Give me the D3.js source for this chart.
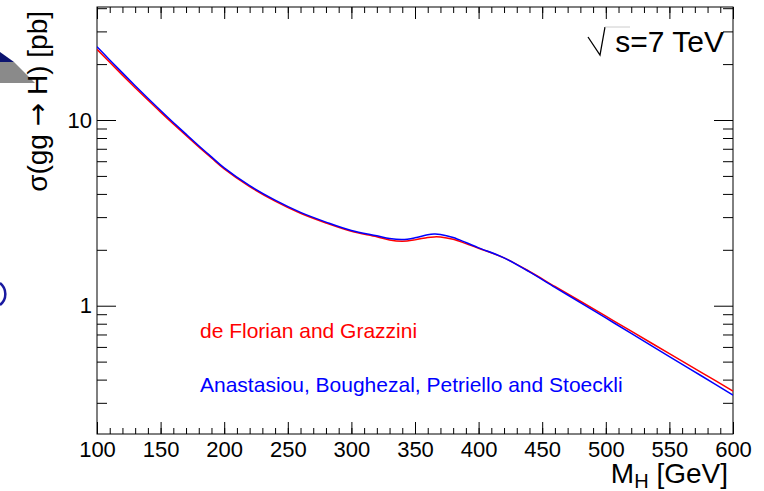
<!DOCTYPE html>
<html>
<head>
<meta charset="utf-8">
<script src="https://cdn.jsdelivr.net/npm/d3@7"></script>
<style>
  body { margin: 0; background: #fff; }
  svg { display: block; font-family: "Liberation Sans", Arial, Helvetica, sans-serif; }
</style>
</head>
<body>
<svg id="svg1" width="764" height="491"></svg>
<script>
// Higgs masses (GeV)
var masses = [100,110,120,130,140,150,160,170,180,190,200,220,240,260,280,300,320,330,340,350,360,365,370,380,390,400,420,440,460,480,500,520,550,575,600];
// de Florian and Grazzini (pb)
var sigmaDFG = [24.02,20.45,17.45,14.93,12.82,11.03,9.53,8.26,7.17,6.24,5.45,4.38,3.66,3.145,2.79,2.515,2.353,2.258,2.223,2.262,2.333,2.347,2.343,2.277,2.16,2.04,1.81,1.528,1.27,1.057,0.878,0.729,0.552,0.438,0.347];
// Anastasiou, Boughezal, Petriello and Stoeckli (pb)
var sigmaABPS = [24.8,21.07,17.94,15.31,13.11,11.26,9.70,8.39,7.27,6.33,5.52,4.43,3.70,3.18,2.82,2.54,2.38,2.30,2.27,2.32,2.41,2.43,2.42,2.33,2.19,2.05,1.81,1.52,1.256,1.040,0.859,0.710,0.5325,0.4197,0.330];

var xMajor = [100,150,200,250,300,350,400,450,500,550,600];
var xMinor = d3.range(100, 601, 10);
var yMajor = [1, 10];
var yMinor = [0.3,0.4,0.5,0.6,0.7,0.8,0.9,2,3,4,5,6,7,8,9,20,30,40];

var svg = d3.select("#svg1");
var margin = {top: 7, right: 31, bottom: 57, left: 97},
    width = 764 - margin.left - margin.right,
    height = 491 - margin.top - margin.bottom;

var xScale = d3.scaleLinear().domain([100, 600]).range([margin.left, margin.left + width]);
var yScale = d3.scaleLog().domain([0.2038, 40.6]).range([margin.top + height, margin.top]);

// petits restes de logo sur le bord gauche
svg.append("path").attr("d", "M0,52 L14,62 L0,62 Z").attr("fill", "#0c1470");
svg.append("path").attr("d", "M0,62 L14,62 L35,83 L0,83 Z").attr("fill", "#8a8a8a");
svg.append("path").attr("d", "M0,283 A14,14 0 0 1 0,305").attr("fill", "none")
    .attr("stroke", "#1a1aa0").attr("stroke-width", 2.5);

svg.append("defs").append("clipPath").attr("id", "clip")
    .append("rect").attr("x", margin.left).attr("y", margin.top).attr("width", width).attr("height", height);

// axes
function styleAxis(g) {
    g.select(".domain").remove();
    g.selectAll("line").attr("stroke", "#000");
    g.selectAll("text").attr("font-size", 22).attr("fill", "#000")
        .style("font-family", "'Liberation Sans', Arial, sans-serif");
}

svg.append("g").attr("transform", `translate(0, ${margin.top + height})`)
    .call(d3.axisBottom(xScale).tickValues(xMinor).tickSize(-6).tickFormat(""))
    .call(styleAxis);
svg.append("g").attr("transform", `translate(0, ${margin.top + height})`)
    .call(d3.axisBottom(xScale).tickValues(xMajor).tickSize(-12).tickPadding(7).tickFormat(d3.format("d")))
    .call(styleAxis);
svg.append("g").attr("transform", `translate(0, ${margin.top})`)
    .call(d3.axisTop(xScale).tickValues(xMinor).tickSize(-6).tickFormat(""))
    .call(styleAxis);
svg.append("g").attr("transform", `translate(0, ${margin.top})`)
    .call(d3.axisTop(xScale).tickValues(xMajor).tickSize(-12).tickFormat(""))
    .call(styleAxis);

svg.append("g").attr("transform", `translate(${margin.left}, 0)`)
    .call(d3.axisLeft(yScale).tickValues(yMinor).tickSize(-10).tickFormat(""))
    .call(styleAxis);
svg.append("g").attr("transform", `translate(${margin.left}, 0)`)
    .call(d3.axisLeft(yScale).tickValues(yMajor).tickSize(-19).tickPadding(5).tickFormat(d3.format("d")))
    .call(styleAxis);
svg.append("g").attr("transform", `translate(${margin.left + width}, 0)`)
    .call(d3.axisRight(yScale).tickValues(yMinor).tickSize(-10).tickFormat(""))
    .call(styleAxis);
svg.append("g").attr("transform", `translate(${margin.left + width}, 0)`)
    .call(d3.axisRight(yScale).tickValues(yMajor).tickSize(-19).tickFormat(""))
    .call(styleAxis);

// cadre
svg.append("rect")
    .attr("x", margin.left).attr("y", margin.top)
    .attr("width", width).attr("height", height)
    .attr("fill", "none").attr("stroke", "#000").attr("stroke-width", 1);

// courbes
var line = d3.line()
    .x(d => xScale(d[0]))
    .y(d => yScale(d[1]))
    .curve(d3.curveCatmullRom.alpha(0.5));

var series = [
    {vals: sigmaDFG, color: "#ff0000"},
    {vals: sigmaABPS, color: "#0000ff"}
];
svg.append("g").attr("clip-path", "url(#clip)")
    .selectAll("path")
    .data(series)
    .enter()
    .append("path")
    .attr("d", s => line(masses.map((m, i) => [m, s.vals[i]])))
    .attr("fill", "none")
    .attr("stroke", s => s.color)
    .attr("stroke-width", 1.5);

// légendes
svg.append("text").attr("x", 200).attr("y", 338)
    .attr("font-size", 21).attr("fill", "#ff0000")
    .text("de Florian and Grazzini");
svg.append("text").attr("x", 200).attr("y", 392)
    .attr("font-size", 21).attr("fill", "#0000ff")
    .text("Anastasiou, Boughezal, Petriello and Stoeckli");

// sqrt(s) = 7 TeV
svg.append("path").attr("d", "M588,37 L600,55 L605,27")
    .attr("fill", "none").attr("stroke", "#000").attr("stroke-width", 1.3);
svg.append("path").attr("d", "M605,27 L630,27")
    .attr("fill", "none").attr("stroke", "#ccc").attr("stroke-width", 1);
svg.append("text").attr("x", 724).attr("y", 52)
    .attr("font-size", 30).attr("text-anchor", "end")
    .text("s=7 TeV");

// titres des axes
var xt = svg.append("text").attr("x", 728).attr("y", 483)
    .attr("font-size", 28).attr("text-anchor", "end");
xt.append("tspan").text("M");
xt.append("tspan").attr("font-size", 20).attr("dy", 5).text("H");
xt.append("tspan").attr("dy", -5).text(" [GeV]");

var yt = svg.append("text")
    .attr("transform", "rotate(-90)")
    .attr("x", -11).attr("y", 47)
    .attr("font-size", 28).attr("text-anchor", "end");
yt.append("tspan").text("σ(gg ");
yt.append("tspan").style("font-family", "'DejaVu Sans', sans-serif").text("→");
yt.append("tspan").text(" H) [pb]");
</script>
</body>
</html>
